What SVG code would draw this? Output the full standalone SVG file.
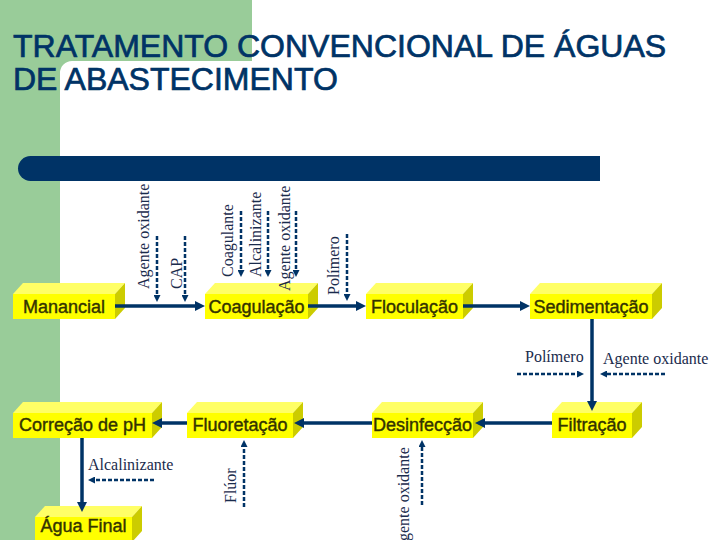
<svg xmlns="http://www.w3.org/2000/svg" width="720" height="540" viewBox="0 0 720 540">
<style>
.title{font-family:"Liberation Sans",Arial,sans-serif;font-size:32px;fill:#003366;stroke:#003366;stroke-width:0.7}
.front{fill:#FFFF00}
.top{fill:#FFFF66}
.side{fill:#CCCC00}
.lbl{font-family:"Liberation Sans",Arial,sans-serif;font-size:18px;fill:#333300;stroke:#333300;stroke-width:0.4;text-anchor:middle}
.note{font-family:"Liberation Serif","Times New Roman",serif;font-size:16px;fill:#1a2b4c}
.main{fill:none;stroke:#003366;stroke-width:3.5;marker-end:url(#arr)}
.dash{fill:none;stroke:#003366;stroke-width:2.5;stroke-dasharray:4 2;marker-end:url(#arrs)}
</style>
<defs>
<marker id="arr" markerUnits="userSpaceOnUse" markerWidth="10" markerHeight="10" refX="2" refY="5" orient="auto">
<path d="M0,0 L10,5 L0,10 Z" fill="#003366"/>
</marker>
<marker id="arrs" markerUnits="userSpaceOnUse" markerWidth="7" markerHeight="7" refX="1.5" refY="3.5" orient="auto">
<path d="M0,0 L7,3.5 L0,7 Z" fill="#003366"/>
</marker>
</defs>
<rect width="720" height="540" fill="#FFFFFF"/>
<path d="M0,0 H252 V61 H72 A12,12 0 0 0 60,73 V540 H0 Z" fill="#99CC99"/>
<text class="title" x="13" y="57">TRATAMENTO CONVENCIONAL DE ÁGUAS</text>
<text class="title" x="13" y="90">DE ABASTECIMENTO</text>
<path d="M30.5,156 H600 V181 H30.5 A12.5,12.5 0 0 1 30.5,156 Z" fill="#003366"/>

<g id="manancial">
<polygon class="top" points="13,294 23,283 125,283 115,294"/>
<polygon class="side" points="115,294 125,283 125,308 115,319"/>
<rect class="front" x="13" y="294" width="102" height="25"/>
<text class="lbl" x="64" y="313">Manancial</text>
</g>
<g id="coagulacao">
<polygon class="top" points="205,294 215,283 318,283 308,294"/>
<polygon class="side" points="308,294 318,283 318,308 308,319"/>
<rect class="front" x="205" y="294" width="103" height="25"/>
<text class="lbl" x="256.5" y="313">Coagulação</text>
</g>
<g id="floculacao">
<polygon class="top" points="366,294 376,283 473,283 463,294"/>
<polygon class="side" points="463,294 473,283 473,308 463,319"/>
<rect class="front" x="366" y="294" width="97" height="25"/>
<text class="lbl" x="414.5" y="313">Floculação</text>
</g>
<g id="sedimentacao">
<polygon class="top" points="530,294 540,283 662,283 652,294"/>
<polygon class="side" points="652,294 662,283 662,308 652,319"/>
<rect class="front" x="530" y="294" width="122" height="25"/>
<text class="lbl" x="591" y="313">Sedimentação</text>
</g>
<g id="correcao">
<polygon class="top" points="13,413 23,402 162,402 152,413"/>
<polygon class="side" points="152,413 162,402 162,427 152,438"/>
<rect class="front" x="13" y="413" width="139" height="25"/>
<text class="lbl" x="82.5" y="430.5">Correção de pH</text>
</g>
<g id="fluoretacao">
<polygon class="top" points="187,413 197,402 303,402 293,413"/>
<polygon class="side" points="293,413 303,402 303,427 293,438"/>
<rect class="front" x="187" y="413" width="106" height="25"/>
<text class="lbl" x="240" y="430.5">Fluoretação</text>
</g>
<g id="desinfeccao">
<polygon class="top" points="372,413 382,402 483,402 473,413"/>
<polygon class="side" points="473,413 483,402 483,427 473,438"/>
<rect class="front" x="372" y="413" width="101" height="25"/>
<text class="lbl" x="422.5" y="430.5">Desinfecção</text>
</g>
<g id="filtracao">
<polygon class="top" points="552,413 562,402 642,402 632,413"/>
<polygon class="side" points="632,413 642,402 642,427 632,438"/>
<rect class="front" x="552" y="413" width="80" height="25"/>
<text class="lbl" x="592" y="430.5">Filtração</text>
</g>
<g id="aguafinal">
<polygon class="top" points="35,517 45,506 142,506 132,517"/>
<polygon class="side" points="132,517 142,506 142,531 132,542"/>
<rect class="front" x="35" y="517" width="97" height="25"/>
<text class="lbl" x="83.5" y="532">Água Final</text>
</g>

<g id="connectors">
<path class="main" d="M115,306 H197"/>
<path class="main" d="M308,306 H358"/>
<path class="main" d="M463,306 H522"/>
<path class="main" d="M592,319 V403"/>
<path class="main" d="M552,423 H483"/>
<path class="main" d="M372,423 H302"/>
<path class="main" d="M187,423 H160"/>
<path class="main" d="M82,438 V504"/>
<path class="dash" d="M157,236 V296.5"/>
<path class="dash" d="M185,236 V296.5"/>
<path class="dash" d="M241,211 V271.5"/>
<path class="dash" d="M268,211 V271.5"/>
<path class="dash" d="M296,211 V271.5"/>
<path class="dash" d="M347,234 V295.5"/>
<path class="dash" d="M517,374 H578.5"/>
<path class="dash" d="M665,374 H605.5"/>
<path class="dash" d="M154,480 H93.5"/>
<path class="dash" d="M244,507 V445.5"/>
<path class="dash" d="M422,505 V445.5"/>
</g>

<g id="labels">
<text class="note" transform="translate(149,289) rotate(-90)">Agente oxidante</text>
<text class="note" transform="translate(182,289) rotate(-90)">CAP</text>
<text class="note" transform="translate(233,277) rotate(-90)">Coagulante</text>
<text class="note" transform="translate(261,277) rotate(-90)">Alcalinizante</text>
<text class="note" transform="translate(290,291) rotate(-90)">Agente oxidante</text>
<text class="note" transform="translate(339,295) rotate(-90)">Polímero</text>
<text class="note" x="525" y="362">Polímero</text>
<text class="note" x="603" y="364">Agente oxidante</text>
<text class="note" x="88" y="470">Alcalinizante</text>
<text class="note" transform="translate(236,503) rotate(-90)">Flúor</text>
<text class="note" transform="translate(409,541) rotate(-90)">gente oxidante</text>
</g>
</svg>
